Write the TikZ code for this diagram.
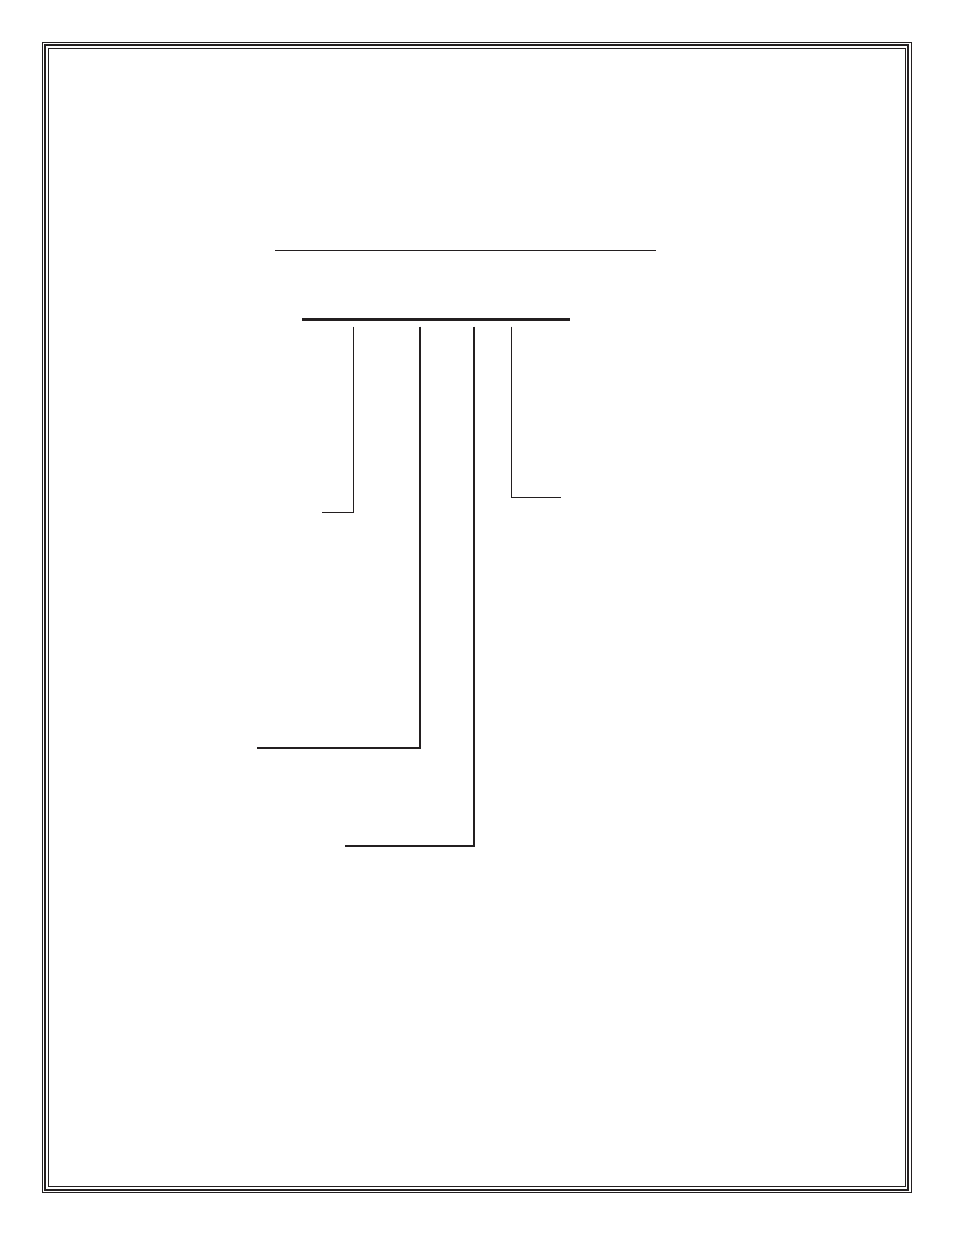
\documentclass[tikz,border=0pt]{standalone}
\usepackage{xcolor}
\usepackage{tikz}
\usetikzlibrary{calc}
\definecolor{inkblack}{HTML}{231F20}

\begin{document}
\begin{tikzpicture}[
    x=1pt, y=-1pt,
    frame/.style={draw=inkblack, line width=#1},
    blank/.style={draw=inkblack, line width=#1, line cap=butt},
    leader/.style={draw=inkblack, line width=#1, line join=miter}
  ]
    \useasboundingbox (0,0) rectangle (954,1235);

    % triple frame
    \draw[frame=1pt]   (42.5,42.5) rectangle (911,1192.5);
    \draw[frame=2pt]   (45.3,45.3) rectangle (908.2,1189.7);
    \draw[frame=1pt]   (48.5,48.5) rectangle (905,1186.5);

    % title line and code line
    \coordinate (titleL) at (275,250.3);
    \coordinate (titleR) at (656,250.3);
    \coordinate (codeL)  at (302,319.3);
    \coordinate (codeR)  at (570,319.3);
    \draw[blank=1pt] (titleL) -- (titleR);
    \draw[blank=3pt] (codeL) -- (codeR);

    % leader ends
    \coordinate (topA) at (353.3,326.5);
    \coordinate (topB) at (420,326.5);
    \coordinate (topC) at (473.8,326.5);
    \coordinate (topD) at (511.3,326.5);
    \coordinate (endA) at (322,512.3);
    \coordinate (endB) at (256.5,748);
    \coordinate (endC) at (345,846);
    \coordinate (endD) at (561,497.3);

    \draw[leader=1pt]   (topA) |- (endA);
    \draw[leader=2pt]   (topB) |- (endB);
    \draw[leader=2.5pt] (topC) |- (endC);
    \draw[leader=1pt]   (topD) |- (endD);
  \end{tikzpicture}
\end{document}
